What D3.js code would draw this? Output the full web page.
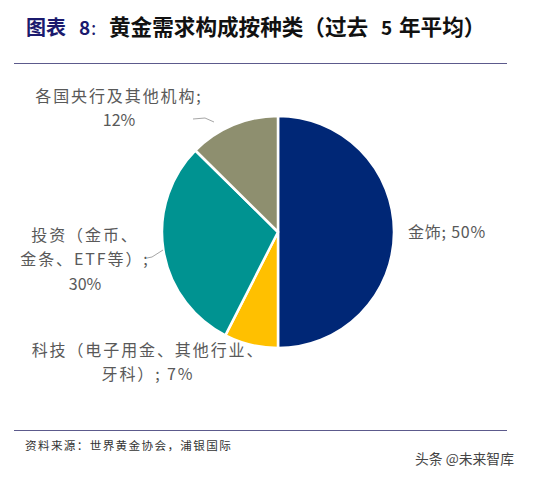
<!DOCTYPE html>
<html><head><meta charset="utf-8">
<script src="https://cdn.jsdelivr.net/npm/d3@7/dist/d3.min.js"></script>
<style>html,body{margin:0;padding:0;background:#fff}svg{display:block}
text{font-family:"Noto Sans CJK SC","Noto Sans",sans-serif}</style></head>
<body><svg id="c" width="541" height="477"></svg>
<script>
const categories=["金饰","科技","投资","各国央行及其他机构"];
const values=[50,7.5,29.9,12.6];
const colors=["#002776","#FFC000","#009391","#8E8F6F"];
const labelLines=[["金饰; 50%"],["科技（电子用金、其他行业、","牙科）; 7%"],["投资（金币、","金条、ETF等）;","30%"],["各国央行及其他机构;","12%"]];
const labelAnchors=[[447,232],[148,362],[85,259],[119,108]];
const sourceText="资料来源：世界黄金协会，浦银国际";
const watermark="头条 @未来智库";

const svg=d3.select("#c");
const pie=d3.pie().value(d=>d).sort(null);
const arc=d3.arc().innerRadius(0).outerRadius(116);
const g=svg.append("g").attr("transform","translate(278,232)");
g.selectAll("path").data(pie(values)).join("path")
 .attr("d",arc).attr("fill",(d,i)=>colors[i]).attr("stroke","#fff").attr("stroke-width",2.5).attr("stroke-linejoin","round");

svg.append("g").selectAll("line").data([63.5,430.5]).join("line")
 .attr("x1",14).attr("x2",507).attr("y1",d=>d).attr("y2",d=>d)
 .attr("stroke","#5c5a8c").attr("stroke-width",1);

const ty=34.5;
svg.append("text").attr("x",26).attr("y",ty).attr("font-size",20).attr("font-weight",700).attr("fill","#1b1a6e").text("图表");
svg.append("text").attr("x",79).attr("y",ty).attr("font-size",19).attr("font-weight",700).attr("fill","#1b1a6e").text("8");
svg.append("text").attr("x",91).attr("y",ty).attr("font-size",19).attr("fill","#1b1a6e").text(":");
svg.append("text").attr("x",109).attr("y",ty).attr("font-size",21.6).attr("font-weight",700).attr("fill","#111").text("黄金需求构成按种类（过去");
svg.append("text").attr("x",381).attr("y",ty).attr("font-size",19).attr("font-weight",700).attr("fill","#111").text("5");
svg.append("text").attr("x",399).attr("y",ty).attr("font-size",21.6).attr("font-weight",700).attr("fill","#111").text("年平均）");

const lab=svg.append("g").attr("fill","#595959").attr("font-size",16).attr("text-anchor","middle");
labelLines.forEach((lines,i)=>{
  lines.forEach((l,j)=>{
    lab.append("text").attr("x",labelAnchors[i][0]).attr("y",labelAnchors[i][1]+6+(j-(lines.length-1)/2)*24.5)
      .attr("letter-spacing",/^[0-9]/.test(l)?0:(i===0?0.8:1.9)).text(l);
  });
});

const leader=d3.line();
svg.append("path").attr("d",leader([[193,119],[205,118],[214,122]])).attr("fill","none").attr("stroke","#a6a6a6");
svg.append("path").attr("d",leader([[147,258],[152,257],[163,250]])).attr("fill","none").attr("stroke","#a6a6a6");

svg.append("text").attr("x",25).attr("y",450).attr("font-size",11.6).attr("fill","#333").attr("letter-spacing",1.35).text(sourceText);
svg.append("text").attr("x",415).attr("y",464).attr("font-size",13.8).attr("fill","#444").text(watermark);
</script></body></html>
